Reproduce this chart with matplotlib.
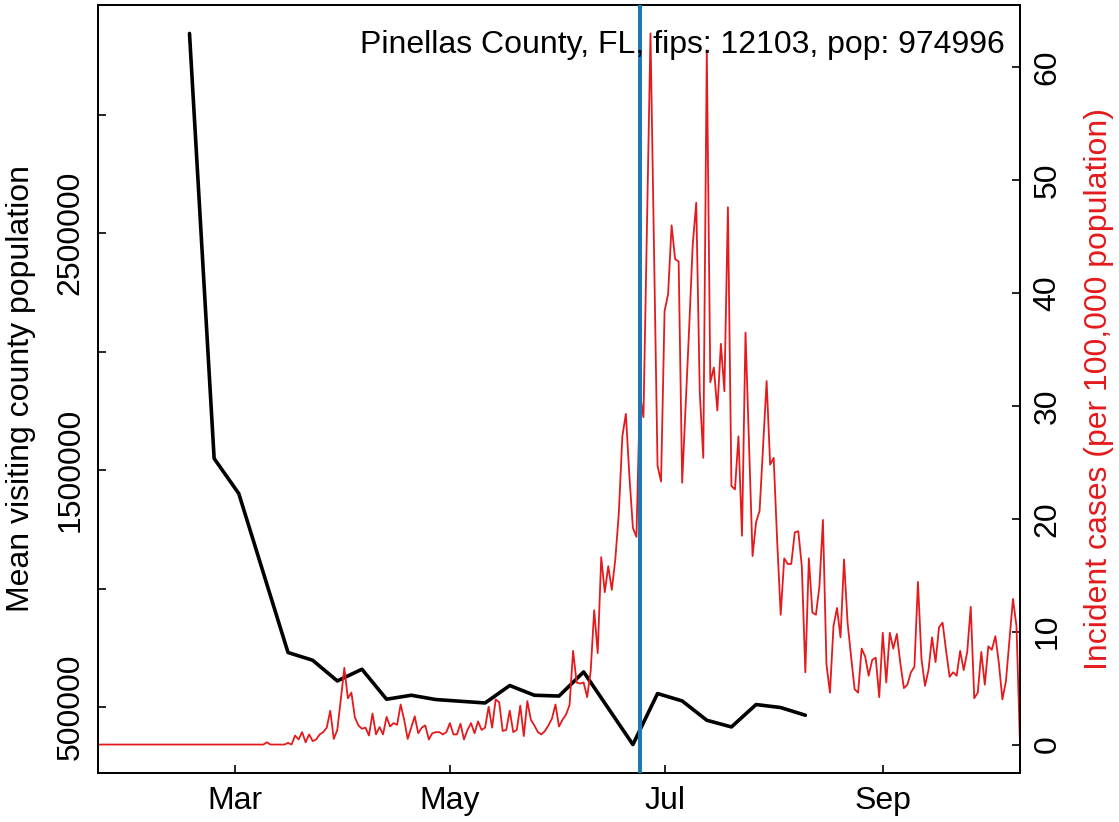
import matplotlib
matplotlib.use("Agg")
import numpy as np
import matplotlib.pyplot as plt
import matplotlib.dates as mdates

plt.rcParams['font.family'] = ['Liberation Sans', 'DejaVu Sans']

# ---- data ----
mob_dates = ['2020-02-17', '2020-02-24', '2020-03-02', '2020-03-16', '2020-03-23',
             '2020-03-30', '2020-04-06', '2020-04-13', '2020-04-20', '2020-04-27',
             '2020-05-11', '2020-05-18', '2020-05-25', '2020-06-01', '2020-06-08',
             '2020-06-22', '2020-06-29', '2020-07-06', '2020-07-13', '2020-07-20',
             '2020-07-27', '2020-08-03', '2020-08-10']
mob_values = [3342600, 1549400, 1401700, 730800, 698300, 611000, 660300, 533800,
              550600, 532500, 518100, 591600, 550600, 547300, 649000, 342600,
              557800, 526600, 445100, 416900, 511400, 498700, 466300]

case_start = '2020-01-22'
case_values = (
    [0.0] * 48 + [0.2] + [0.0] * 5 + [0.15, 0.0] +
    [0.8, 0.45, 1.1, 0.2, 0.9, 0.3, 0.45, 0.9, 1.1, 1.5, 3.0, 0.5, 1.3] +
    [4.0, 6.8, 4.1, 4.6, 2.4, 1.7, 1.4, 1.5, 0.8, 2.75] +
    [0.9, 1.55, 0.9, 2.45, 1.6, 1.9, 1.75, 3.55, 2.2, 0.5] +
    [1.5, 2.5, 1.0, 1.5, 1.7, 0.45, 1.0, 1.1, 1.1, 0.9] +
    [1.1, 1.9, 0.9, 0.9, 1.85, 0.45, 1.3, 1.9, 1.0, 2.05] +
    [1.3, 1.5, 3.35, 1.5, 4.0, 3.75, 1.2, 1.3, 3.0, 1.1] +
    [1.3, 3.45, 0.75, 3.85, 2.2, 1.7, 1.1, 0.9, 1.2, 1.7] +
    [2.3, 3.55, 1.6, 2.2, 2.65, 3.5, 8.3, 5.5, 5.4, 5.5] +
    [4.2, 6.5, 11.9, 8.1, 16.6, 13.5, 15.8, 13.7, 16.4, 20.5] +
    [27.3, 29.3, 23.8, 19.2, 18.4, 31.0, 29.0, 46.0, 63.0, 44.0] +
    [24.7, 23.3, 38.4, 39.9, 46.0, 43.0, 42.8, 23.2, 30.0, 37.0] +
    [44.3, 48.0, 31.2, 25.4, 61.5, 32.1, 33.4, 29.6, 35.5, 31.3] +
    [47.6, 22.9, 22.6, 27.3, 18.5, 36.5, 26.6, 16.7, 19.7, 20.7] +
    [26.4, 32.2, 24.8, 25.4, 18.0, 11.5, 16.5, 16.0, 16.0, 18.8] +
    [18.9, 15.8, 6.4, 16.5, 11.7, 11.5, 14.0, 19.9, 7.1, 4.6] +
    [10.5, 12.1, 9.5, 16.4, 10.8, 7.8, 4.9, 4.6, 8.5, 7.8] +
    [6.1, 7.5, 7.7, 4.2, 9.9, 5.5, 9.9, 8.5, 9.8, 7.2] +
    [5.0, 5.3, 6.4, 6.9, 14.4, 7.6, 5.2, 6.6, 9.5, 7.3] +
    [10.4, 10.8, 8.3, 6.0, 6.4, 6.1, 8.3, 6.6, 8.2, 12.2] +
    [4.1, 4.6, 8.2, 5.3, 8.7, 8.4, 9.6, 7.2, 4.0, 5.6] +
    [9.3, 12.9, 10.5, 0.0]
)
event_date = '2020-06-24'
title_text = "Pinellas County, FL, fips: 12103, pop: 974996"
left_ticks = [500000, 1000000, 1500000, 2000000, 2500000, 3000000]
left_tick_labels = ['500000', '', '1500000', '', '2500000', '']
right_ticks = [0, 10, 20, 30, 40, 50, 60]
x_ticks = ['2020-03-01', '2020-05-01', '2020-07-01', '2020-09-01']
x_tick_labels = ['Mar', 'May', 'Jul', 'Sep']

# ---- figure ----
W, H = 1119, 822
fig = plt.figure(figsize=(W / 100, H / 100), dpi=100)
L, R, T, B = 98, 1020, 5, 773
ax = fig.add_axes([L / W, 1 - B / H, (R - L) / W, (B - T) / H])

FS = 23
mdates_x = np.array(mob_dates, dtype='datetime64[D]')
case_x = np.datetime64(case_start) + np.arange(len(case_values))

ax.plot(mdates_x, mob_values, color='black', lw=2.6, solid_joinstyle='round',
        solid_capstyle='round', zorder=2)
lo, hi = min(mob_values), max(mob_values)
r = hi - lo
ax.set_ylim(lo - 0.04 * r, hi + 0.04 * r)
ax.set_xlim(case_x[0], case_x[-1])

ax2 = ax.twinx()
ax2.plot(case_x, case_values, color='#E41A1C', lw=1.3, zorder=2)
cmax = max(case_values)
ax2.set_ylim(-0.04 * cmax, cmax * 1.04)
ax2.axvline(np.datetime64(event_date), color='#1F78B4', lw=2.9, zorder=3)

ax.set_yticks(left_ticks)
ax.set_yticklabels(left_tick_labels, rotation=90, va='center', fontsize=FS)
ax2.set_yticks(right_ticks)
ax2.set_yticklabels([str(t) for t in right_ticks], rotation=90, va='center', fontsize=FS)
ax.set_xticks(np.array(x_ticks, dtype='datetime64[D]'))
ax.set_xticklabels(x_tick_labels, fontsize=FS)

for a in (ax, ax2):
    a.tick_params(direction='in', length=5.8, width=1.2, colors='black')
    for s in a.spines.values():
        s.set_linewidth(1.3)
        s.set_color('black')
ax.tick_params(axis='x', pad=9)
ax.tick_params(axis='y', pad=9)
ax2.tick_params(axis='y', pad=9)

ax.set_ylabel("Mean visiting county population", fontsize=FS, color='black')
ax.yaxis.set_label_coords(-0.067, 0.5)
ax2.set_ylabel("Incident cases (per 100,000 population)", fontsize=FS, color='#E41A1C')
ax2.yaxis.set_label_coords(1.069, 0.5)

ax2.text(0.984, 0.948, title_text, transform=ax2.transAxes, ha='right', va='center',
         fontsize=FS, color='black', zorder=5)

fig.savefig('out.png', dpi=100)
